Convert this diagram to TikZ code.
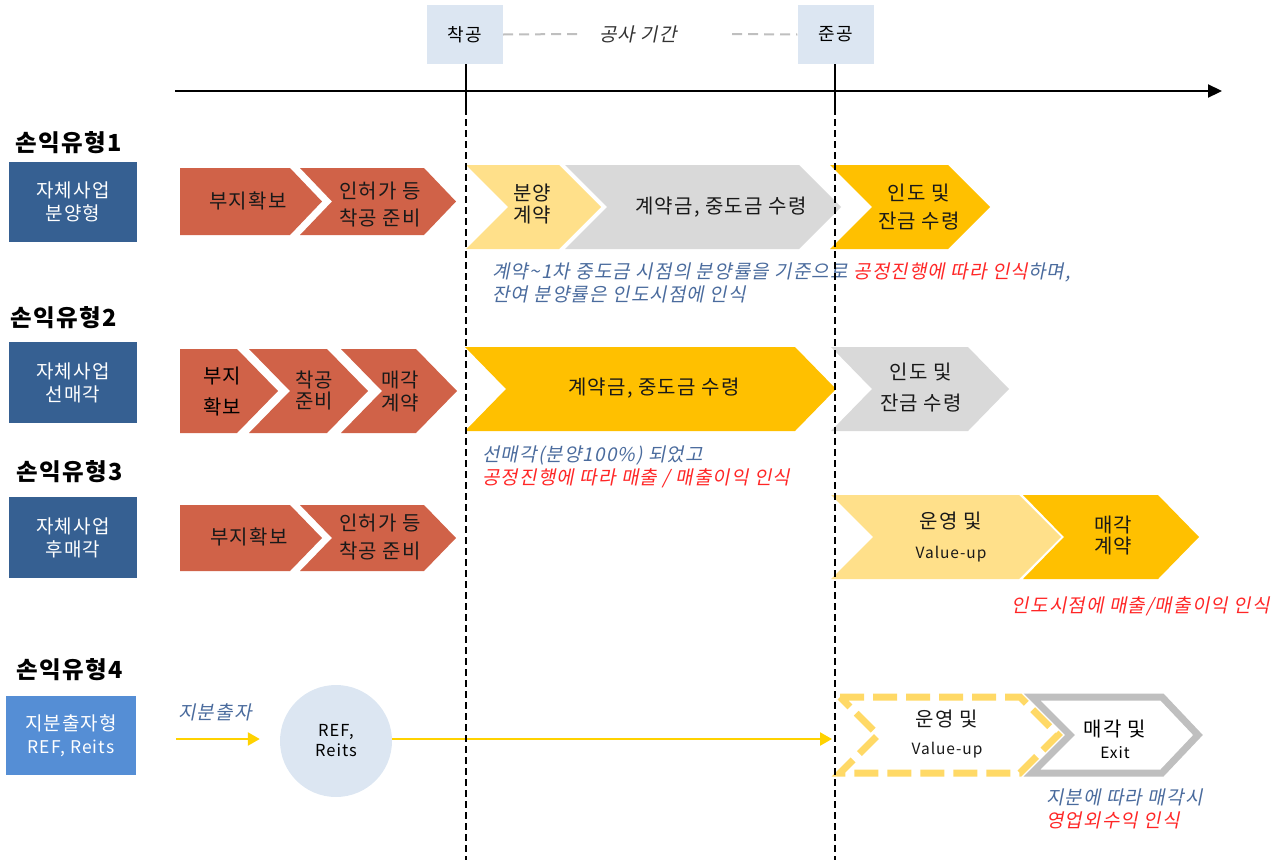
\documentclass[tikz,border=0pt]{standalone}
\usepackage{fontspec}
\setmainfont{Noto Sans CJK KR}[LetterSpace=6]
\newfontfamily\krit{Noto Sans CJK KR}[FakeSlant=0.2, LetterSpace=6]
\usetikzlibrary{arrows.meta}
\definecolor{boxblue}{HTML}{366092}
\definecolor{boxlight}{HTML}{558ED5}
\definecolor{paleblue}{HTML}{DCE6F2}
\definecolor{redch}{HTML}{D06248}
\definecolor{lyel}{HTML}{FFE08A}
\definecolor{gold}{HTML}{FFC000}
\definecolor{lgray}{HTML}{D9D9D9}
\definecolor{ogray}{HTML}{BFBFBF}
\definecolor{dyel}{HTML}{FFD966}
\definecolor{arrowyel}{HTML}{FFD200}
\definecolor{noteblue}{HTML}{4A6B9D}
\definecolor{notered}{HTML}{FF2626}
\newcommand\chvN[6]{\fill[#6] (#1,#3) -- (#2,#3) -- ({#2+#5},{(#3+#4)/2}) -- (#2,#4) -- (#1,#4) -- ({#1+#5},{(#3+#4)/2}) -- cycle;}
\newcommand\chvF[6]{\fill[#6] (#1,#3) -- (#2,#3) -- ({#2+#5},{(#3+#4)/2}) -- (#2,#4) -- (#1,#4) -- cycle;}
\newcommand\sm{\fontsize{15.5}{15.5}\selectfont}
\tikzset{
  lbl/.style={font=\bfseries\fontsize{23.5}{26}\selectfont, anchor=west, inner sep=0pt},
  typebox/.style={fill=#1, text=white, font=\fontsize{19}{23}\selectfont, align=center, inner sep=0pt},
  ctext/.style={font=\fontsize{20}{28}\selectfont, align=center, inner sep=0pt, text=black!90},
  ctight/.style={font=\fontsize{20}{22}\selectfont, align=center, inner sep=0pt, text=black!90},
  note/.style={font=\krit\fontsize{19}{23}\selectfont, anchor=west, align=left, inner sep=0pt, text=noteblue},
  milebox/.style={fill=paleblue, minimum width=76pt, minimum height=59pt, inner sep=0pt, font=\fontsize{18}{20}\selectfont},
  vdash/.style={line width=1.1pt, dash pattern=on 7pt off 4pt},
  gdash/.style={line width=2pt, ogray, dash pattern=on 10pt off 6pt},
  yarrow/.style={line width=2.4pt, arrowyel, -{Triangle[length=12pt,width=13pt]}},
}
\begin{document}
\begin{tikzpicture}[x=1pt,y=-1pt]
\useasboundingbox (0,0) rectangle (1283,860);

% ---- timeline ----
\node[milebox] (start) at (465,34.5) {착공};
\node[milebox] (finish) at (835.5,34.5) {준공};
\node[font=\krit\fontsize{19}{20}\selectfont, text=black!80] (period) at (638,34) {공사 기간};
\coordinate (gd1) at (577,34);
\coordinate (gd2) at (732,34);
\draw[gdash] (start.east) -- (gd1);
\draw[gdash] (gd2) -- (finish.west);
\coordinate (tl0) at (175,91);
\coordinate (tl1) at (1222,91);
\draw[line width=2.2pt, -{Triangle[length=14pt,width=13pt]}] (tl0) -- (tl1);
\coordinate (s1) at (466,64); \coordinate (s2) at (466,108); \coordinate (s3) at (466,860);
\coordinate (f1) at (835,64); \coordinate (f2) at (835,108); \coordinate (f3) at (835,860);
\draw[line width=1.8pt] (s1) -- (s2);
\draw[line width=1.8pt] (f1) -- (f2);

% ---- row 1 ----
\node[lbl] (l1) at (15,143) {손익유형1};
\node[typebox=boxblue, minimum width=128pt, minimum height=80pt] (b1) at (73,202) {자체사업\\분양형};
\chvF{180}{290}{168}{235}{32}{redch}
\chvN{300}{424}{168}{235}{32}{redch}
\chvN{466}{559}{165}{249}{42}{lyel}
\chvN{565}{799}{165}{249}{42}{lgray}
\chvN{830}{948}{165}{249}{42}{gold}
\node[ctext] (r1a) at (248,201) {부지확보};
\node[ctext, font=\fontsize{20}{27}\selectfont] (r1b) at (380,204.5) {인허가 등\\착공 준비};
\node[ctight] (r1c) at (532,204) {분양\\계약};
\node[ctext] (r1d) at (721,207) {계약금, 중도금 수령};
\node[ctext] (r1e) at (919,207) {인도 및\\잔금 수령};
\node[note] (n1) at (492,283) {계약\textasciitilde 1차 중도금 시점의 분양률을 기준으로 {\color{notered}공정진행에 따라 인식}하며,\\잔여 분양률은 인도시점에 인식};

% ---- row 2 ----
\node[lbl] (l2) at (10,318) {손익유형2};
\node[typebox=boxblue, minimum width=128pt, minimum height=81pt] (b2) at (73,382.5) {자체사업\\선매각};
\chvF{180}{237}{349}{433}{41}{redch}
\chvN{249}{327}{349}{433}{41}{redch}
\chvN{341}{416}{349}{433}{41}{redch}
\chvN{465}{795}{347}{431}{41}{gold}
\chvN{831}{968}{347}{431}{41}{lgray}
\node[font=\fontsize{20}{31}\selectfont, align=center, inner sep=0pt] (r2a) at (222,391.5) {부지\\확보};
\node[ctight, font=\fontsize{20}{21}\selectfont] (r2b) at (314,390) {착공\\준비};
\node[ctight, font=\fontsize{20}{23}\selectfont] (r2c) at (400,391.5) {매각\\계약};
\node[ctext] (r2d) at (654,388) {계약금, 중도금 수령};
\node[ctext, font=\fontsize{20}{31}\selectfont] (r2e) at (921,387.5) {인도 및\\잔금 수령};
\node[note] (n2) at (482,466.5) {선매각(분양100\%) 되었고\\{\color{notered}공정진행에 따라 매출 / 매출이익 인식}};

% ---- row 3 ----
\node[lbl] (l3) at (16,472) {손익유형3};
\node[typebox=boxblue, minimum width=128pt, minimum height=81pt] (b3) at (73,537.5) {자체사업\\후매각};
\chvF{180}{290}{505}{571}{32}{redch}
\chvN{300}{424}{505}{571}{32}{redch}
\chvN{831}{1019}{495}{579}{42}{lyel}
\chvN{1023}{1158}{495}{579}{41}{gold}
\node[ctext] (r3a) at (249,537) {부지확보};
\node[ctext] (r3b) at (380,537.5) {인허가 등\\착공 준비};
\node[ctext, font=\fontsize{20}{30}\selectfont] (r3c) at (951,537) {운영 및\\{\sm Value-up}};
\node[ctight, font=\fontsize{20}{21}\selectfont] (r3d) at (1113,536) {매각\\계약};
\node[note, text=notered, anchor=east] (n3) at (1270,606) {인도시점에 매출/매출이익 인식};

% ---- row 4 ----
\node[lbl] (l4) at (16,670) {손익유형4};
\node[typebox=boxlight, minimum width=130pt, minimum height=79pt] (b4) at (71,735.5) {지분출자형\\{\fontsize{17.5}{17.5}\selectfont REF, Reits}};
\node[note] (eq) at (178,712) {지분출자};
\node[circle, fill=paleblue, minimum size=112pt, inner sep=0pt, font=\fontsize{16.5}{20}\selectfont, align=center] (ref) at (336,741) {REF,\\Reits};
\coordinate (a0) at (176,739);
\coordinate (vu) at (832,739);
\draw[yarrow, shorten >=20pt] (a0) -- (ref.west |- a0);
\draw[yarrow] (ref.east |- vu) -- (vu);
\draw[dyel, line width=7pt, dash pattern=on 24pt off 9pt, line join=miter] (840,697) -- (1020,697) -- (1058,735) -- (1020,773) -- (840,773) -- (878,735) -- cycle;
\draw[ogray, line width=7pt, line join=miter] (1032,697) -- (1162,697) -- (1198,735) -- (1162,773) -- (1032,773) -- (1070,735) -- cycle;
\node[ctext, font=\fontsize{20}{28}\selectfont] (r4a) at (947,734) {운영 및\\{\sm Value-up}};
\node[font=\fontsize{20}{22}\selectfont, align=center, inner sep=0pt] (r4b) at (1115,739) {매각 및\\{\sm Exit}};
\node[note] (n4) at (1046,809) {지분에 따라 매각시\\{\color{notered}영업외수익 인식}};

% ---- vertical dashed lines (on top) ----
\draw[vdash] (s2) -- (s3);
\draw[vdash] (f2) -- (f3);
\end{tikzpicture}
\end{document}
